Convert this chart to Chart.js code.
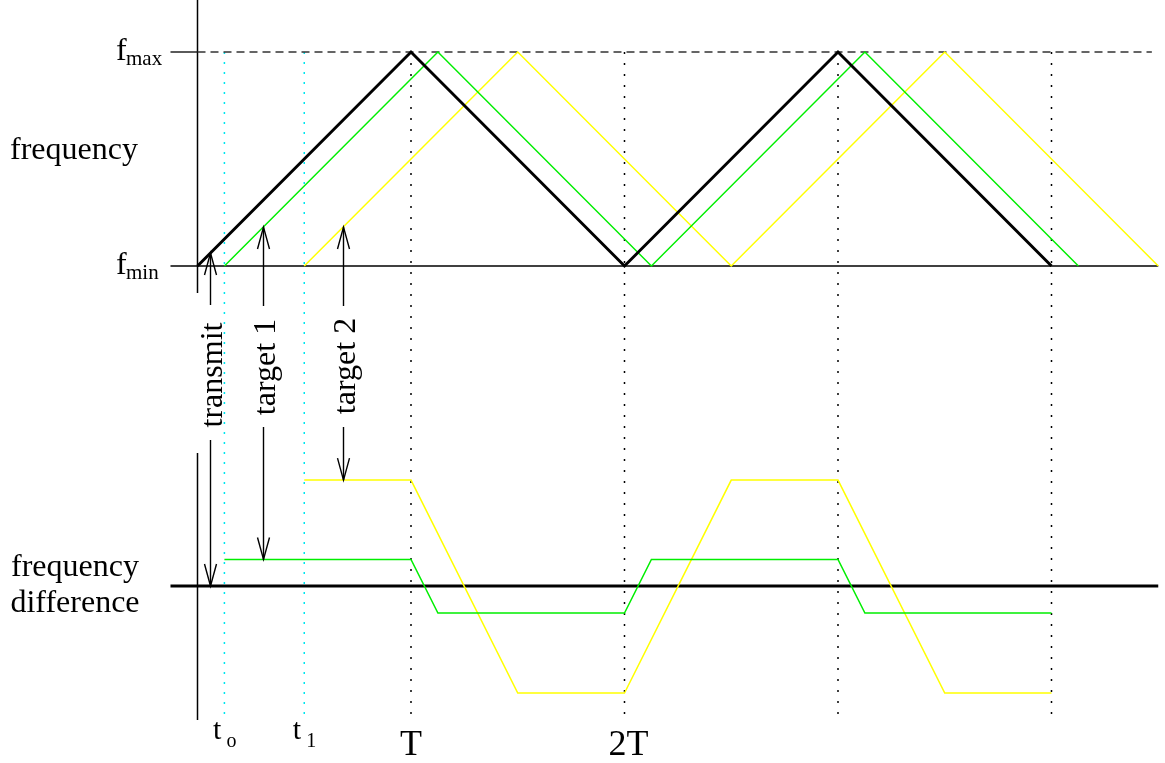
<!DOCTYPE html>
<html><head><meta charset="utf-8">
<script src="https://cdn.jsdelivr.net/npm/chart.js@4/dist/chart.umd.min.js"></script>
<style>html,body{margin:0;padding:0;background:#fff;overflow:hidden}#wrap{width:1165px;height:763px;position:relative}</style>
</head><body><div id="wrap"><canvas id="c"></canvas></div>
<script>
// ---- data (time in units of T, frequency 0 = fmin, 1 = fmax) ----
const transmitTimes = [0, 1, 2, 3, 4];
const transmitFreq  = [0, 1, 0, 1, 0];
const target1Times  = [0.126, 1.126, 2.126, 3.126, 4.126];
const target1Freq   = [0, 1, 0, 1, 0];
const target2Times  = [0.5, 1.5, 2.5, 3.5, 4.5];
const target2Freq   = [0, 1, 0, 1, 0];
const diff1Times    = [0.126, 1, 1.126, 2, 2.126, 3, 3.126, 4];
const diff1Values   = [0.124, 0.124, -0.126, -0.126, 0.124, 0.124, -0.126, -0.126];
const diff2Times    = [0.5, 1, 1.5, 2, 2.5, 3, 3.5, 4];
const diff2Values   = [0.495, 0.495, -0.5, -0.5, 0.495, 0.495, -0.5, -0.5];
const periodMarks   = [1, 2, 3, 4];
const delayMarks    = [0.126, 0.5];
const timeTickValues = [0.126, 0.5, 1, 2];
const timeTickMain   = ['t', 't', 'T', '2T'];
const timeTickSub    = ['o', '1', '', ''];
const freqTickValues = [1, 0];
const freqTickSub    = ['max', 'min'];
const arrowLabels    = ['transmit', 'target 1', 'target 2'];
const arrowTimes     = [0.0585, 0.3068, 0.6815];
const arrowFreqTips  = [0.061, 0.182, 0.182];
const arrowDiffTips  = [0, 0.124, 0.495];

const pts = (xs, ys) => xs.map((x, i) => ({x, y: ys[i]}));
const seg = (x0, y0, x1, y1) => [{x: x0, y: y0}, {x: x1, y: y1}];

const GREEN = '#00ee00', YELLOW = '#ffff00', CYAN = '#00e5ee';
const line = (data, color, width, extra) => Object.assign({
  data, borderColor: color, borderWidth: width, showLine: true, pointRadius: 0,
  pointHoverRadius: 0, tension: 0, fill: false, yAxisID: 'y'
}, extra || {});

const X_LEFT = -0.1265, X_RIGHT = 4.5, Y_BOTTOM = -2.1215;
const datasets = [
  line(pts(transmitTimes, transmitFreq), '#000', 3, {order: 0}),
  line(pts(target1Times, target1Freq), GREEN, 1.5, {order: 1}),
  line(pts(target2Times, target2Freq), YELLOW, 1.5, {order: 2}),
  line(pts(diff1Times, diff1Values), GREEN, 1.5, {order: 1, yAxisID: 'y2'}),
  line(pts(diff2Times, diff2Values), YELLOW, 1.5, {order: 2, yAxisID: 'y2'}),
  // guides
  line(seg(0, 1, 4.47, 1), '#333', 1.3, {order: 5, borderDash: [8, 5]}),
  line(seg(X_LEFT, 1, 0, 1), '#000', 1.3, {order: 5}),
  line(seg(X_LEFT, 0, X_RIGHT, 0), '#000', 1.5, {order: 5}),
  line(seg(X_LEFT, 0, X_RIGHT, 0), '#000', 3, {order: 5, yAxisID: 'y2'}),
  line(seg(0, 1.243, 0, -0.126), '#000', 1.5, {order: 5}),
  line(seg(0, -0.874, 0, Y_BOTTOM), '#000', 1.5, {order: 5}),
];
periodMarks.forEach(t => datasets.push(line(seg(t, 1, t, Y_BOTTOM), '#000', 1.5, {order: 6, borderDash: [2, 9]})));
delayMarks.forEach(t => datasets.push(line(seg(t, 1, t, Y_BOTTOM), CYAN, 1.5, {order: 6, borderDash: [2, 8]})));

const SERIF = '"Liberation Serif", "Times New Roman", serif';
const annot = {
  id: 'annot',
  afterDatasetsDraw(chart) {
    const {ctx, scales: {x, y, y2}} = chart;
    ctx.save();
    ctx.fillStyle = '#000'; ctx.strokeStyle = '#000';
    ctx.textBaseline = 'alphabetic';
    // side labels
    ctx.font = '32px ' + SERIF;
    ctx.textAlign = 'left';
    ctx.fillText('frequency', 10, 159);
    ctx.textAlign = 'center';
    ctx.fillText('frequency', 75, 576);
    ctx.fillText('difference', 75, 612);
    // f ticks
    freqTickValues.forEach((v, i) => {
      const py = y.getPixelForValue(v);
      ctx.textAlign = 'left';
      ctx.font = '32px ' + SERIF; ctx.fillText('f', 116, py + 8);
      ctx.font = '21px ' + SERIF; ctx.fillText(freqTickSub[i], 126, py + 13);
    });
    // time ticks
    timeTickValues.forEach((v, i) => {
      const px = x.getPixelForValue(v);
      if (timeTickSub[i]) {
        ctx.textAlign = 'left';
        ctx.font = '30px ' + SERIF; ctx.fillText(timeTickMain[i], px - 11.5, 739);
        ctx.font = '20px ' + SERIF; ctx.fillText(timeTickSub[i], px + 2, 747);
      } else {
        ctx.textAlign = 'center';
        ctx.font = '36px ' + SERIF;
        ctx.fillText(timeTickMain[i], px + (timeTickMain[i].length > 1 ? 4 : 0), 755);
      }
    });
    // arrows + rotated labels
    const labelCenter = [375, 367, 366];
    const upperEnd = [305, 306, 306];
    const lowerStart = [440, 427, 427];
    const drawLine = (x0, y0, x1, y1) => { ctx.beginPath(); ctx.moveTo(x0, y0); ctx.lineTo(x1, y1); ctx.stroke(); };
    const head = (px, py, dir) => {
      ctx.beginPath();
      ctx.moveTo(px - 6, py - dir * 22); ctx.lineTo(px, py); ctx.lineTo(px + 6, py - dir * 22);
      ctx.stroke();
    };
    ctx.lineWidth = 1.4;
    arrowTimes.forEach((t, i) => {
      const px = Math.round(x.getPixelForValue(t)) + 0.5;
      const top = y.getPixelForValue(arrowFreqTips[i]);
      const bot = y2.getPixelForValue(arrowDiffTips[i]);
      drawLine(px, top, px, upperEnd[i]);
      drawLine(px, lowerStart[i], px, bot);
      head(px, top, -1);
      head(px, bot, 1);
      ctx.save();
      ctx.translate(px + 11, labelCenter[i]);
      ctx.rotate(-Math.PI / 2);
      ctx.textAlign = 'center';
      ctx.font = '32px ' + SERIF;
      ctx.fillText(arrowLabels[i], 0, 0);
      ctx.restore();
    });
    ctx.restore();
  }
};

new Chart(document.getElementById('c'), {
  type: 'scatter',
  data: {datasets},
  options: {
    responsive: true, maintainAspectRatio: false, animation: false,
    layout: {padding: 0},
    plugins: {legend: {display: false}, tooltip: {enabled: false}},
    events: [],
    scales: {
      x: {type: 'linear', display: false, min: -0.92506, max: 4.53162},
      y: {type: 'linear', display: false, min: -2.32243, max: 1.24299},
      y2: {type: 'linear', display: false, min: -0.82710, max: 2.73832}
    }
  },
  plugins: [annot]
});
</script>
</body></html>
